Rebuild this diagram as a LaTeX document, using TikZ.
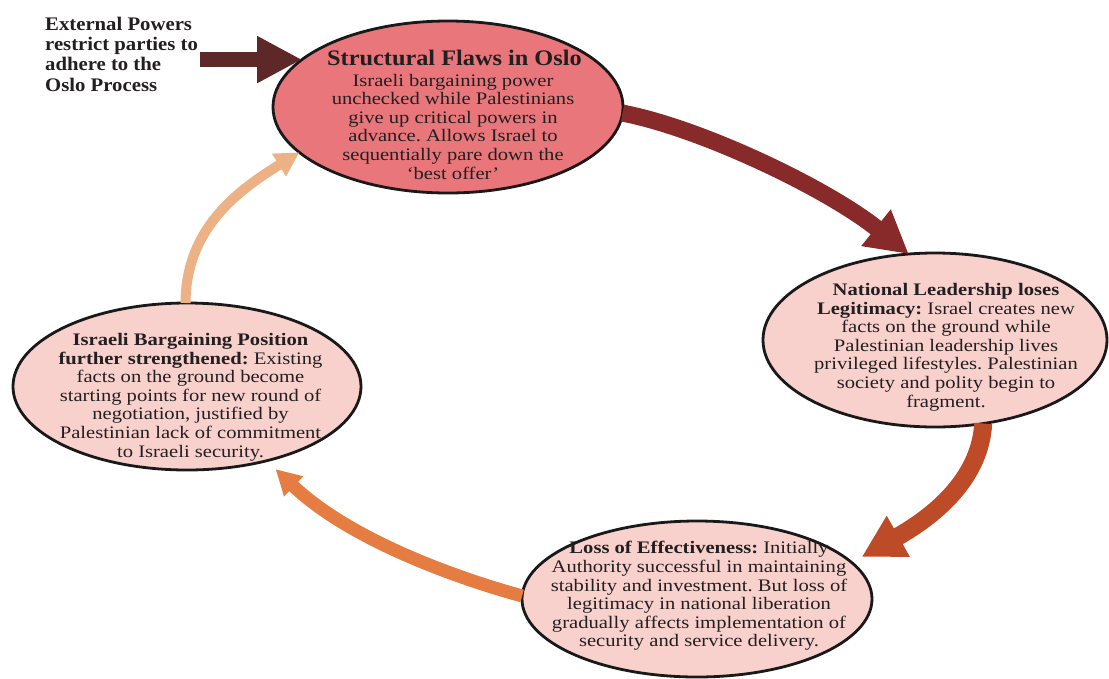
\documentclass[tikz,border=0pt]{standalone}
\usepackage{fontspec}
\setmainfont{Liberation Serif}
\newfontfamily\bodyfont{Liberation Serif}[FakeStretch=1.17]
\newfontfamily\titlefont{Liberation Serif}[FakeStretch=1.095]
\newfontfamily\extfont{Liberation Serif}[FakeStretch=1.08]
\usetikzlibrary{arrows.meta,shapes.geometric}
\frenchspacing
\definecolor{txt}{HTML}{231F20}
\definecolor{ellA}{HTML}{E9767B}
\definecolor{ellB}{HTML}{F8D1CD}
\definecolor{arrA}{HTML}{882A2A}
\definecolor{arrB}{HTML}{BD4B27}
\definecolor{arrC}{HTML}{E57D42}
\definecolor{arrD}{HTML}{ECB285}
\definecolor{arrX}{HTML}{5F2828}
\tikzset{
  ell/.style={ellipse, draw=black!90, line width=2.8pt, inner sep=0pt, outer sep=0pt},
  bodytext/.style={inner sep=0pt, align=center, text=txt, anchor=north,
    font=\bodyfont\fontsize{17.6pt}{18.6pt}\selectfont},
}
\begin{document}
\begin{tikzpicture}[x=1pt,y=-1pt]
\useasboundingbox (0,0) rectangle (1109,678);
% ellipses
\node[ell, fill=ellA, minimum width=350pt, minimum height=172pt] (e1) at (448,107) {};
\node[ell, fill=ellB, minimum width=344pt, minimum height=174pt] (e2) at (935,340) {};
\node[ell, fill=ellB, minimum width=348pt, minimum height=167pt] (e3) at (187,386.5) {};
\node[ell, fill=ellB, minimum width=350pt, minimum height=156pt] (e4) at (697,599) {};
% texts
\node[inner sep=0pt, anchor=base, text=txt, font=\titlefont\bfseries\fontsize{22.2pt}{24pt}\selectfont] (t1) at (454.5,65) {Structural Flaws in Oslo};
\node[bodytext] (b1) at (453,73.7) {Israeli bargaining power\\unchecked while Palestinians\\give up critical powers in\\advance. Allows Israel to\\sequentially pare down the\\‘best offer’};
\node[bodytext] (b2) at (946,283) {\textbf{National Leadership loses}\\\textbf{Legitimacy:} Israel creates new\\facts on the ground while\\Palestinian leadership lives\\privileged lifestyles. Palestinian\\society and polity begin to\\fragment.};
\node[bodytext] (b3) at (190.5,333) {\textbf{Israeli Bargaining Position}\\\textbf{further strengthened:} Existing\\facts on the ground become\\starting points for new round of\\negotiation, justified by\\Palestinian lack of commitment\\to Israeli security.};
\node[bodytext] (b4) at (699,541.3) {\textbf{Loss of Effectiveness:} Initially\\Authority successful in maintaining\\stability and investment. But loss of\\legitimacy in national liberation\\gradually affects implementation of\\security and service delivery.};
\node[inner sep=0pt, anchor=north west, align=left, text=txt, font=\extfont\bfseries\fontsize{19.2pt}{20.2pt}\selectfont] (ext) at (45,17) {External Powers\\restrict parties to\\adhere to the\\Oslo Process};
% arrows
\draw[arrX, line width=15pt, -{Triangle[length=45pt,width=44pt]}] ([xshift=2pt]ext.east |- e1.162) -- (e1.162);
\draw[arrA, line width=17pt, -{Triangle[length=42pt,width=44pt]}] (e1.-2) .. controls +(78,15) and +(-82,-66) .. (e2.107);
\draw[arrB, line width=18pt, -{Triangle[length=42pt,width=44pt]}] (e2.-60) .. controls +(-3,52) and +(78,-44) .. ([shift={(12,-4)}]e4.14);
\draw[arrC, line width=13pt, -{Triangle[length=25pt,width=26pt]}] (e4.179) .. controls +(-80,-22) and +(69,66) .. ([shift={(9,8.4)}]e3.-43);
\draw[arrD, line width=10pt, -{Triangle[length=24pt,width=25pt]}] (e3.91) .. controls +(0,-75) and +(-60,37) .. (e1.197);
\end{tikzpicture}
\end{document}
